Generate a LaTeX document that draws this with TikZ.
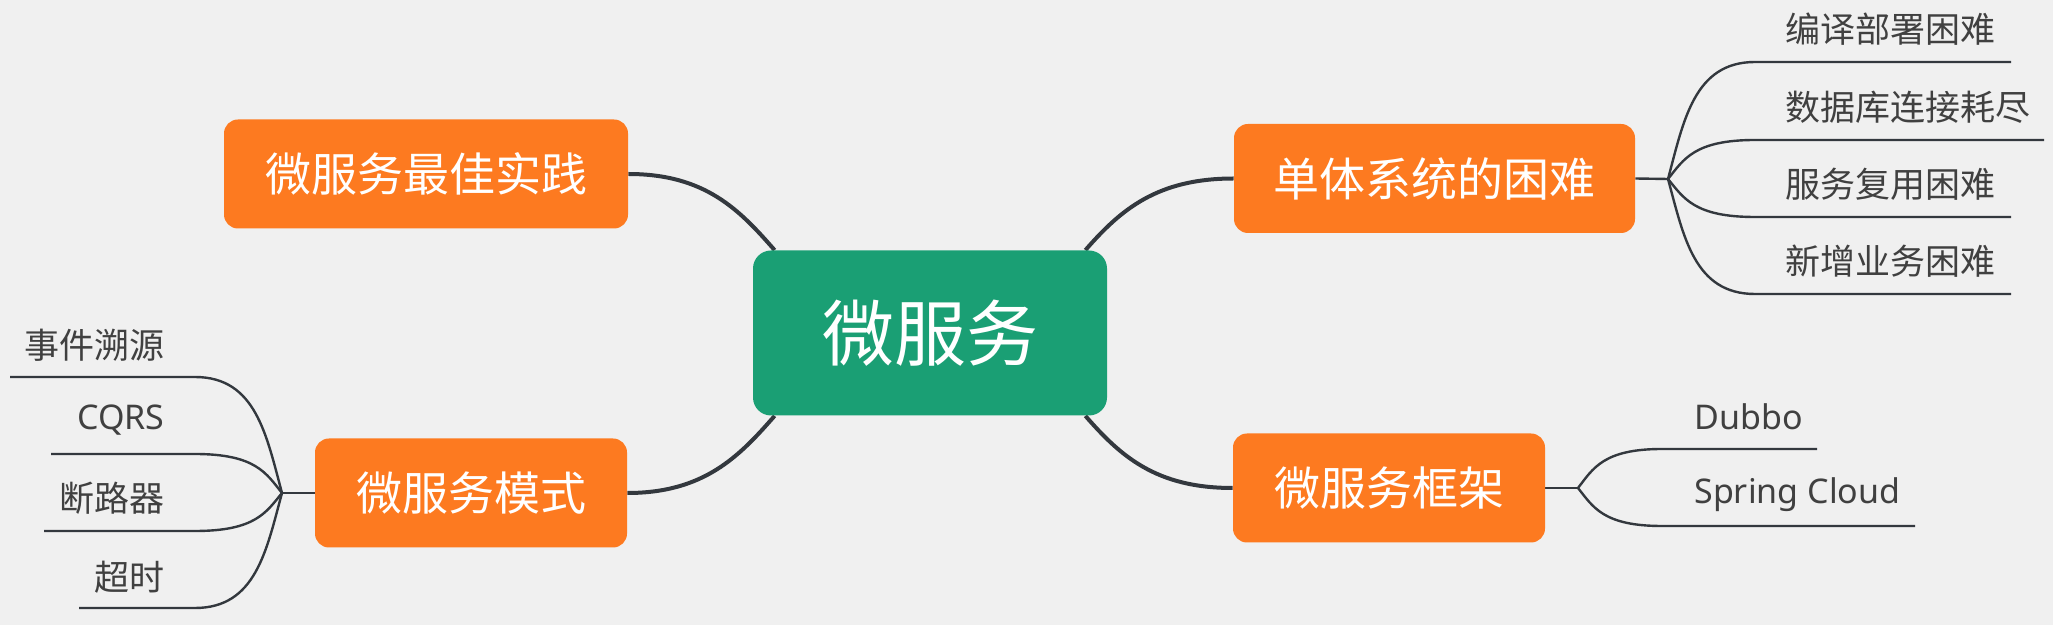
\documentclass[tikz,border=0pt]{standalone}
\usepackage{fontspec}
\setmainfont{Noto Sans CJK SC}
\newfontfamily\latinfont{Noto Sans}
\usetikzlibrary{calc,backgrounds}
\definecolor{bgc}{HTML}{F0F0F0}
\definecolor{orangebox}{HTML}{FD7A20}
\definecolor{greenbox}{HTML}{1A9F74}
\definecolor{linec}{HTML}{33383E}
\definecolor{leaftext}{HTML}{404040}
\begin{document}
\begin{tikzpicture}[x=0.5pt,y=-0.5pt,
  topic/.style={fill=orangebox, rounded corners=7pt, text=white, font=\fontsize{23pt}{23pt}\selectfont, inner sep=0pt, minimum height=54.5pt},
  centralbox/.style={fill=greenbox, rounded corners=9pt, text=white, font=\fontsize{36pt}{36pt}\selectfont, inner sep=0pt, minimum width=177pt, minimum height=82.5pt},
  leaf/.style={text=leaftext, font=\fontsize{17.5pt}{17.5pt}\selectfont, inner sep=0pt},
  latinleaf/.style={leaf, font=\latinfont\fontsize{17pt}{17pt}\selectfont},
  mainline/.style={draw=linec, line width=2pt},
  leafline/.style={draw=linec, line width=1.2pt}
]
\useasboundingbox (0,0) rectangle (2053,625);

% main nodes
\node[centralbox] (root) at (930,333) {微服务};
\node[topic, minimum width=202pt] (best) at (426,174) {微服务最佳实践};
\node[topic, minimum width=156pt] (mode) at (471,493) {微服务模式};
\node[topic, minimum width=200.5pt] (mono) at (1434.5,178.5) {单体系统的困难};
\node[topic, minimum width=156pt] (fw) at (1389,488) {微服务框架};

% right-top leaves
\node[leaf, anchor=west] (m1) at (1785,29) {编译部署困难};
\node[leaf, anchor=west] (m2) at (1785,107) {数据库连接耗尽};
\node[leaf, anchor=west] (m3) at (1785,184) {服务复用困难};
\node[leaf, anchor=west] (m4) at (1785,261) {新增业务困难};
% right-bottom leaves
\node[latinleaf, anchor=west] (f1) at (1694,417) {Dubbo};
\node[latinleaf, anchor=west] (f2) at (1694,495) {Spring Cloud};
% left leaves
\node[leaf, anchor=east] (p1) at (165,345) {事件溯源};
\node[latinleaf, anchor=east] (p2) at (165,420) {CQRS};
\node[leaf, anchor=east] (p3) at (165,498) {断路器};
\node[leaf, anchor=east] (p4) at (165,577) {超时};

% branch points and leaf line ends
\coordinate (bm) at (1668,179);
\coordinate (m1s) at (1755,62);  \coordinate (m1e) at (2011,62);
\coordinate (m2s) at (1755,140); \coordinate (m2e) at (2044,140);
\coordinate (m3s) at (1755,217); \coordinate (m3e) at (2011,217);
\coordinate (m4s) at (1755,294); \coordinate (m4e) at (2011,294);

\coordinate (bf) at (1578,488);
\coordinate (f1s) at (1662,449); \coordinate (f1e) at (1817,449);
\coordinate (f2s) at (1662,526); \coordinate (f2e) at (1915,526);

\coordinate (bp) at (282,493);
\coordinate (p1s) at (195,377); \coordinate (p1e) at (10,377);
\coordinate (p2s) at (195,454); \coordinate (p2e) at (51,454);
\coordinate (p3s) at (195,531); \coordinate (p3e) at (44,531);
\coordinate (p4s) at (195,608); \coordinate (p4e) at (79,608);

\begin{scope}[on background layer]
\fill[bgc] (0,0) rectangle (2053,625);
% main connectors
\draw[mainline] (best.east) .. controls +(77,0) and +(-35,-40) .. ($(root.north west)+(22,0)$);
\draw[mainline] (mode.east) .. controls +(77,0) and +(-35,40) .. ($(root.south west)+(22,0)$);
\draw[mainline] ($(root.north east)+(-22,0)$) .. controls +(35,-40) and +(-77,0) .. (mono.west);
\draw[mainline] ($(root.south east)+(-22,0)$) .. controls +(35,40) and +(-77,0) .. (fw.west);
% leaf connectors
\draw[leafline] (mono.east) -- (bm);
\foreach \s/\e in {m1s/m1e,m2s/m2e,m3s/m3e,m4s/m4e}
  \draw[leafline] (bm) .. controls ($(bm)!0.5!(bm |- \s) + 0.18*(bm -| \s) - 0.18*(bm)$) and ($(\s)!0.7!(bm |- \s)$) .. (\s) -- (\e);
\draw[leafline] (fw.east) -- (bf);
\foreach \s/\e in {f1s/f1e,f2s/f2e}
  \draw[leafline] (bf) .. controls ($(bf)!0.5!(bf |- \s) + 0.18*(bf -| \s) - 0.18*(bf)$) and ($(\s)!0.7!(bf |- \s)$) .. (\s) -- (\e);
\draw[leafline] (mode.west) -- (bp);
\foreach \s/\e in {p1s/p1e,p2s/p2e,p3s/p3e,p4s/p4e}
  \draw[leafline] (bp) .. controls ($(bp)!0.5!(bp |- \s) + 0.18*(bp -| \s) - 0.18*(bp)$) and ($(\s)!0.7!(bp |- \s)$) .. (\s) -- (\e);
\end{scope}
\end{tikzpicture}
\end{document}
